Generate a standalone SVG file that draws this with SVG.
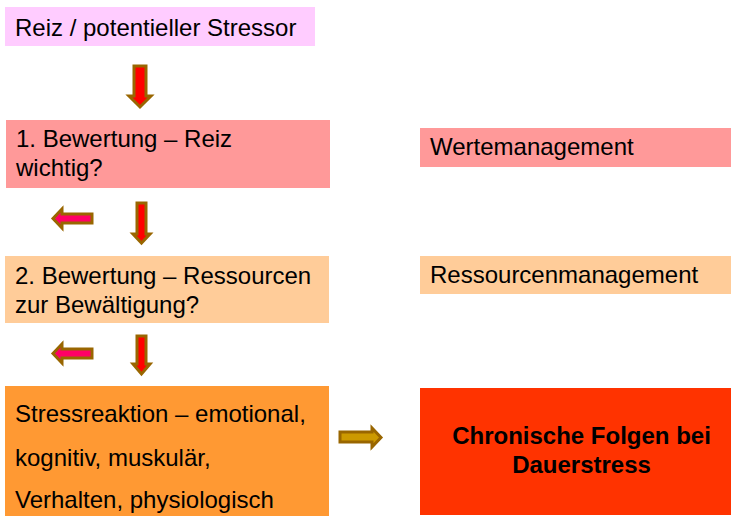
<svg xmlns="http://www.w3.org/2000/svg" width="732" height="516" viewBox="0 0 732 516">
<style>
text{font-family:"Liberation Sans",Arial,sans-serif;font-size:24px;fill:#000}
.b{font-weight:bold;font-size:24px;text-anchor:middle}
.ar{stroke:#996600;stroke-width:3;stroke-linejoin:miter}
.dn{fill:#FF0000}
.lf{fill:#FF0066}
.rt{fill:#CC9900}
</style>
<rect width="732" height="516" fill="#fff"/>
<g id="reiz">
<rect x="5" y="7" width="310" height="39" fill="#FFCCFF"/>
<text x="15" y="36">Reiz / potentieller Stressor</text>
</g>
<g id="bewertung1">
<rect x="6" y="120" width="324" height="68" fill="#FF9999"/>
<text x="16" y="147">1. Bewertung – Reiz</text>
<text x="16" y="176">wichtig?</text>
</g>
<g id="wertemanagement">
<rect x="420" y="128" width="311" height="39" fill="#FF9999"/>
<text x="430" y="155">Wertemanagement</text>
</g>
<g id="bewertung2">
<rect x="5" y="256" width="324" height="67" fill="#FFCC99"/>
<text x="15" y="284">2. Bewertung – Ressourcen</text>
<text x="15" y="313">zur Bewältigung?</text>
</g>
<g id="ressourcenmanagement">
<rect x="420" y="256" width="311" height="38" fill="#FFCC99"/>
<text x="430" y="283">Ressourcenmanagement</text>
</g>
<g id="stressreaktion">
<rect x="5" y="386" width="324" height="130" fill="#FF9933"/>
<text x="15" y="422">Stressreaktion – emotional,</text>
<text x="15" y="466">kognitiv, muskulär,</text>
<text x="15" y="508">Verhalten, physiologisch</text>
</g>
<g id="chronisch">
<rect x="420" y="388" width="311" height="127" fill="#FF3300"/>
<text class="b" x="581.5" y="444">Chronische Folgen bei</text>
<text class="b" x="581.5" y="473">Dauerstress</text>
</g>
<g id="connectors">
<polygon class="ar dn" points="134,66 146,66 146,96 151,96 140,107 129,96 134,96"/>
<polygon class="ar dn" points="137,203 146,203 146,234 150,234 141.5,243 133,234 137,234"/>
<polygon class="ar dn" points="137,336 146,336 146,364 150,364 141.5,374 133,364 137,364"/>
<polygon class="ar lf" points="92,214 92,223 62,223 62,228 53,218.5 62,209 62,214"/>
<polygon class="ar lf" points="92,349 92,358 62,358 62,363 53,353.5 62,344 62,349"/>
<polygon class="ar rt" points="340,432 372,432 372,428 381,437.5 372,447 372,442 340,442"/>
</g>
</svg>
